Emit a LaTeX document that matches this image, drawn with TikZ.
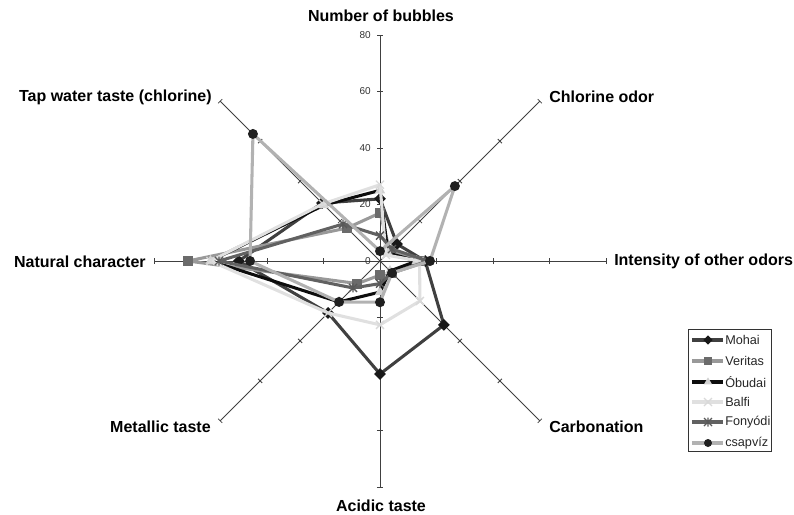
\documentclass[tikz,border=0pt]{standalone}
\usepackage{fontspec}
\setmainfont{Liberation Sans}
\usetikzlibrary{shapes.geometric}
\begin{document}
\begin{tikzpicture}[x=0.75pt,y=0.75pt,
  axisline/.style={draw=black!75,line width=0.6pt},
  axislab/.style={font=\fontsize{12}{14}\selectfont\bfseries,inner sep=0pt},
  ticklab/.style={font=\fontsize{7.5}{9}\selectfont,text=black!80,inner sep=0pt},
  legtext/.style={font=\fontsize{9.5}{11}\selectfont,text=black!85,inner sep=0pt,anchor=west},
  sline/.style={line width=2.3pt,line join=round},
  cMohai/.style={sline,draw=black!75},
  cVeritas/.style={sline,draw=black!40},
  cObudai/.style={sline,draw=black!95},
  cBalfi/.style={sline,draw=black!12},
  cFonyodi/.style={sline,draw=black!62},
  cCsap/.style={sline,draw=black!30},
  mMohai/.style={diamond,fill=black!90,inner sep=0pt,minimum width=9pt,minimum height=9pt},
  mVeritas/.style={rectangle,fill=black!58,inner sep=0pt,minimum size=7.5pt},
  mObudai/.style={regular polygon,regular polygon sides=3,fill=black!18,inner sep=0pt,minimum size=9pt},
  mCsap/.style={circle,fill=black!88,inner sep=0pt,minimum size=7.5pt},
  xmk/.pic={\draw[black!15,line width=1pt] (-4,-4)--(4,4) (-4,4)--(4,-4);},
  astmk/.pic={\draw[black!65,line width=1pt] (-4,-4)--(4,4) (-4,4)--(4,-4) (0,-4.5)--(0,4.5);}
]
\useasboundingbox (-380,-254) rectangle (414,261);
\def\u{2.825}
% axes and ticks
\foreach \a in {90,45,0,-45,-90,-135,180,135} {
  \draw[axisline] (0,0) -- (\a:226);
  \foreach \k in {1,...,4} \draw[axisline,rotate=\a] (\k*56.5,-3) -- (\k*56.5,3);
}
\foreach \k in {0,...,4} {
  \pgfmathtruncatemacro\lab{\k*20}
  \node[ticklab,anchor=east] (t\k) at (-9,\k*56.5) {\lab};
}
% axis labels
\node[axislab] (lN) at (1,245) {Number of bubbles};
\node[axislab,anchor=west] (lNE) at (169,164) {Chlorine odor};
\node[axislab,anchor=west] (lE) at (234,0) {Intensity of other odors};
\node[axislab,anchor=west] (lSE) at (169,-166) {Carbonation};
\node[axislab] (lS) at (1,-245) {Acidic taste};
\node[axislab,anchor=east] (lSW) at (-169,-166) {Metallic taste};
\node[axislab,anchor=east] (lW) at (-234,-1) {Natural character};
\node[axislab,anchor=east] (lNW) at (-168,164) {Tap water taste (chlorine)};
% data coordinates: N, NE, E, SE, S, SW, W, NW
\foreach \v [count=\i] in {22,8.5,16,32,40,26,50,29} \coordinate (M\i) at ({90-(\i-1)*45}:{\v*\u});
\foreach \v [count=\i] in {17,5,14,6,5,11.3,68,16.5} \coordinate (V\i) at ({90-(\i-1)*45}:{\v*\u});
\foreach \v [count=\i] in {25,4,13,5,11,20.5,60,28} \coordinate (O\i) at ({90-(\i-1)*45}:{\v*\u});
\foreach \v [count=\i] in {27,3,14,20,22.6,26,60,28.6} \coordinate (B\i) at ({90-(\i-1)*45}:{\v*\u});
\foreach \v [count=\i] in {9,6,17,6,8,13.5,57,18.5} \coordinate (F\i) at ({90-(\i-1)*45}:{\v*\u});
\foreach \v [count=\i] in {3.5,37.5,17.7,6,14.6,20.5,46,63.6} \coordinate (C\i) at ({90-(\i-1)*45}:{\v*\u});
% series
\draw[cMohai] (M1)--(M2)--(M3)--(M4)--(M5)--(M6)--(M7)--(M8)--cycle;
\foreach \i in {1,...,8} \node[mMohai] at (M\i) {};
\draw[cVeritas] (V1)--(V2)--(V3)--(V4)--(V5)--(V6)--(V7)--(V8)--cycle;
\foreach \i in {1,...,8} \node[mVeritas] at (V\i) {};
\draw[cObudai] (O1)--(O2)--(O3)--(O4)--(O5)--(O6)--(O7)--(O8)--cycle;
\foreach \i in {1,...,8} \node[mObudai] at (O\i) {};
\draw[cBalfi] (B1)--(B2)--(B3)--(B4)--(B5)--(B6)--(B7)--(B8)--cycle;
\foreach \i in {1,...,8} \pic at (B\i) {xmk};
\draw[cFonyodi] (F1)--(F2)--(F3)--(F4)--(F5)--(F6)--(F7)--(F8)--cycle;
\foreach \i in {1,...,8} \pic at (F\i) {astmk};
\draw[cCsap] (C1)--(C2)--(C3)--(C4)--(C5)--(C6)--(C7)--(C8)--cycle;
\foreach \i in {1,...,8} \node[mCsap] at (C\i) {};
% legend
\draw[black!80,line width=0.6pt] (308,-68) rectangle (391,-190);
\foreach \nm/\st/\y [count=\j] in {Mohai/cMohai/-79,Veritas/cVeritas/-100,Óbudai/cObudai/-121,Balfi/cBalfi/-141,Fonyódi/cFonyodi/-161,csapvíz/cCsap/-182} {
  \coordinate (La\j) at (312,\y);
  \coordinate (Lb\j) at (343,\y);
  \draw[\st] (La\j) -- (Lb\j);
  \node[legtext] (Lt\j) at (345,\y) {\nm};
}
\node[mMohai,minimum width=7pt,minimum height=7pt] at (328,-79) {};
\node[mVeritas,minimum size=6pt] at (328,-100) {};
\node[mObudai,minimum size=7pt] at (328,-121) {};
\pic at (328,-141) {xmk};
\pic at (328,-161) {astmk};
\node[mCsap,minimum size=6pt] at (328,-182) {};
\end{tikzpicture}
\end{document}
